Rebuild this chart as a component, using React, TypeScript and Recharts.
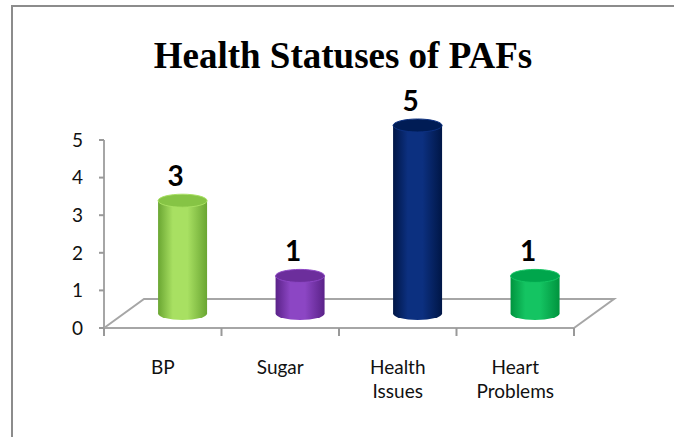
import { BarChart, Bar, XAxis, YAxis, ReferenceArea } from 'recharts'

const categories = ['BP', 'Sugar', 'Health Issues', 'Heart Problems']
const counts = [3, 1, 5, 1]
const yTicks = [0, 1, 2, 3, 4, 5]

// cylinder colours: [edge, highlight, top face]
const barColors = [
    ['#6aa632', '#a8e062', '#86c445'],
    ['#5a2288', '#8c46c4', '#6c2e9c'],
    ['#001646', '#0c3080', '#001c55'],
    ['#00943e', '#14c462', '#00a64c'],
]

const data = categories.map((name, i) => ({ name, value: counts[i] }))

// depth offset of the pseudo 3d floor
const DX = 40
const DY = -29
const RY = 6.5

const Cylinder = (props: any) => {
    const { x, y, width, height, index, value } = props
    const c = barColors[index]
    const left = x + DX / 2
    const right = left + width
    const cx = left + width / 2
    const rx = width / 2
    const top = y + DY / 2
    const bottom = y + height + DY / 2
    const gid = `cyl-${index}`
    return (
        <g>
            <defs>
                <linearGradient id={gid} x1="0" y1="0" x2="1" y2="0">
                    <stop offset="0%" stopColor={c[0]} />
                    <stop offset="30%" stopColor={c[1]} />
                    <stop offset="60%" stopColor={c[1]} />
                    <stop offset="100%" stopColor={c[0]} />
                </linearGradient>
            </defs>
            <path
                d={`M${left},${top} L${left},${bottom} A${rx},${RY} 0 0 0 ${right},${bottom} L${right},${top} Z`}
                fill={`url(#${gid})`}
            />
            <ellipse cx={cx} cy={top} rx={rx} ry={RY} fill={c[2]} stroke={c[1]} strokeWidth={1} />
            <text
                x={cx - 7}
                y={y - 29}
                textAnchor="middle"
                fontFamily="Lato"
                fontWeight="bold"
                fontSize={28}
                fill="#000"
            >
                {value}
            </text>
        </g>
    )
}

const Floor = (props: any) => {
    const { x, y, width, height } = props
    const b = y + height
    return (
        <polyline
            points={`${x},${b} ${x + DX},${b + DY} ${x + width + DX},${b + DY} ${x + width},${b}`}
            fill="none"
            stroke="#a6a6a6"
            strokeWidth={2}
        />
    )
}

const CategoryTick = (props: any) => {
    const { x, y, payload, index, visibleTicksCount } = props
    const band = 470 / categories.length
    const axisY = y - 8
    const lines = String(payload.value).split(' ')
    return (
        <g>
            <line x1={x - band / 2} y1={axisY} x2={x - band / 2} y2={axisY + 8} stroke="#999" strokeWidth={2} />
            {index === visibleTicksCount - 1 && (
                <line x1={x + band / 2} y1={axisY} x2={x + band / 2} y2={axisY + 8} stroke="#999" strokeWidth={2} />
            )}
            <text x={x} y={axisY + 46} textAnchor="middle" fontFamily="Lato" fontSize={19} fill="#111">
                {lines.map((l, i) => (
                    <tspan key={i} x={x} dy={i === 0 ? 0 : 24}>
                        {l}
                    </tspan>
                ))}
            </text>
        </g>
    )
}

export default function App() {
    return (
        <div style={{ position: 'fixed', left: 0, top: 0, width: 674, height: 437, overflow: 'hidden', background: '#fff' }}>
            {/* outer frame */}
            <div
                style={{
                    position: 'absolute',
                    left: 11,
                    top: 5,
                    width: 700,
                    height: 500,
                    border: '2px solid #8c8c8c',
                }}
            />
            <div
                style={{
                    position: 'absolute',
                    left: 0,
                    top: 37,
                    width: 686,
                    textAlign: 'center',
                    fontFamily: '"Liberation Serif", serif',
                    fontWeight: 'bold',
                    fontSize: 37,
                    lineHeight: '37px',
                    color: '#000',
                }}
            >
                Health Statuses of PAFs
            </div>
            <div style={{ position: 'absolute', left: 0, top: 0 }}>
                <BarChart
                    width={674}
                    height={437}
                    data={data}
                    margin={{ top: 140, right: 100, bottom: 49, left: 0 }}
                    barCategoryGap="29%"
                >
                    <XAxis
                        dataKey="name"
                        height={60}
                        axisLine={{ stroke: '#a6a6a6', strokeWidth: 2 }}
                        tickLine={false}
                        tickSize={8}
                        tickMargin={0}
                        interval={0}
                        tick={<CategoryTick />}
                    />
                    <YAxis
                        width={104}
                        domain={[0, 5]}
                        ticks={yTicks}
                        axisLine={{ stroke: '#a6a6a6', strokeWidth: 2 }}
                        tickLine={{ stroke: '#999', strokeWidth: 2 }}
                        tickSize={5}
                        tickMargin={16}
                        tick={{ fontFamily: 'Lato', fontSize: 19, fill: '#111' }}
                    />
                    <ReferenceArea y1={0} y2={5} shape={<Floor />} />
                    <Bar dataKey="value" shape={<Cylinder />} isAnimationActive={false} />
                </BarChart>
            </div>
        </div>
    )
}
